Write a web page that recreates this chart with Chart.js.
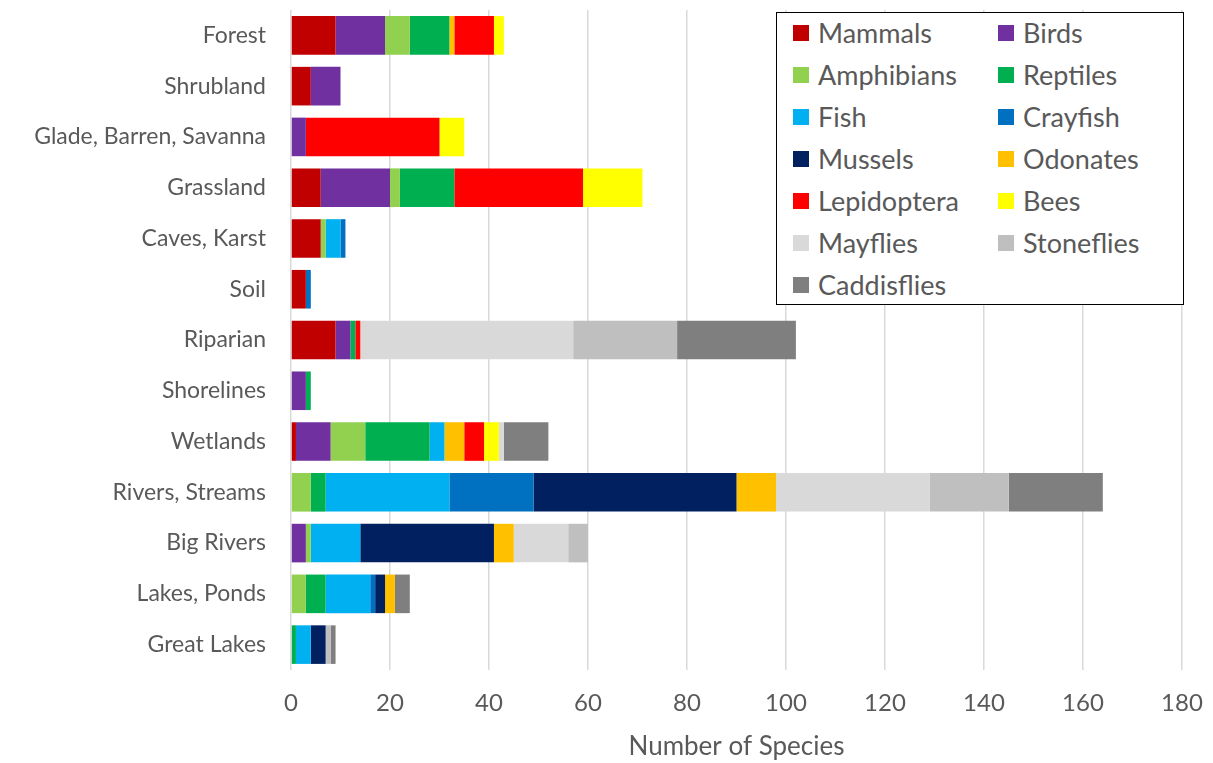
<!DOCTYPE html>
<html>
<head>
<meta charset="utf-8">
<script src="https://cdn.jsdelivr.net/npm/chart.js@4.4.1/dist/chart.umd.min.js"></script>
<style>
  html, body { margin: 0; padding: 0; background: #ffffff; }
  #wrap { position: relative; width: 1213px; height: 763px; overflow: hidden; }
  #legend {
    position: absolute; left: 776px; top: 12px; width: 408px; height: 293px;
    border: 1.5px solid #000; background: #fff; box-sizing: border-box;
    font-family: Lato, "Open Sans", sans-serif; font-size: 27px; color: #595959;
  }
  .item { position: absolute; height: 30px; line-height: 30px; white-space: nowrap; }
  .sw { position: absolute; left: 0; top: 7px; width: 16px; height: 16px; }
  .lbl { position: absolute; left: 25px; top: 0; }
</style>
</head>
<body>
<div id="wrap">
  <canvas id="c" width="1213" height="763"></canvas>
  <div id="legend"></div>
</div>
<script>
const categories = ["Forest", "Shrubland", "Glade, Barren, Savanna", "Grassland", "Caves, Karst", "Soil",
  "Riparian", "Shorelines", "Wetlands", "Rivers, Streams", "Big Rivers", "Lakes, Ponds", "Great Lakes"];

const seriesNames = ["Mammals", "Birds", "Amphibians", "Reptiles", "Fish", "Crayfish", "Mussels",
  "Odonates", "Lepidoptera", "Bees", "Mayflies", "Stoneflies", "Caddisflies"];

const mammals     = [9, 4, 0, 6, 6, 3, 9, 0, 1, 0, 0, 0, 0];
const birds       = [10, 6, 3, 14, 0, 0, 3, 3, 7, 0, 3, 0, 0];
const amphibians  = [5, 0, 0, 2, 1, 0, 0, 0, 7, 4, 1, 3, 0];
const reptiles    = [8, 0, 0, 11, 0, 0, 1, 1, 13, 3, 0, 4, 1];
const fish        = [0, 0, 0, 0, 3, 0, 0, 0, 3, 25, 10, 9, 3];
const crayfish    = [0, 0, 0, 0, 1, 1, 0, 0, 0, 17, 0, 1, 0];
const mussels     = [0, 0, 0, 0, 0, 0, 0, 0, 0, 41, 27, 2, 3];
const odonates    = [1, 0, 0, 0, 0, 0, 0, 0, 4, 8, 4, 2, 0];
const lepidoptera = [8, 0, 27, 26, 0, 0, 1, 0, 4, 0, 0, 0, 0];
const bees        = [2, 0, 5, 12, 0, 0, 0, 0, 3, 0, 0, 0, 0];
const mayflies    = [0, 0, 0, 0, 0, 0, 43, 0, 1, 31, 11, 0, 0];
const stoneflies  = [0, 0, 0, 0, 0, 0, 21, 0, 0, 16, 4, 0, 1];
const caddisflies = [0, 0, 0, 0, 0, 0, 24, 0, 9, 19, 0, 3, 1];

const xTicks = [0, 20, 40, 60, 80, 100, 120, 140, 160, 180];
const xTitle = "Number of Species";

const seriesValues = [mammals, birds, amphibians, reptiles, fish, crayfish, mussels,
  odonates, lepidoptera, bees, mayflies, stoneflies, caddisflies];
const seriesColors = ["#C00000", "#7030A0", "#92D050", "#00B050", "#00B0F0", "#0070C0", "#002060",
  "#FFC000", "#FF0000", "#FFFF00", "#D9D9D9", "#BFBFBF", "#7F7F7F"];

const FONT = "Lato, 'Open Sans', sans-serif";
const TXT = "#595959";

const datasets = seriesNames.map((n, i) => ({
  label: n,
  data: seriesValues[i],
  backgroundColor: seriesColors[i],
  borderWidth: 0,
  categoryPercentage: 1,
  barPercentage: 0.76
}));

new Chart(document.getElementById("c"), {
  type: "bar",
  data: { labels: categories, datasets },
  options: {
    indexAxis: "y",
    responsive: false,
    animation: false,
    layout: { padding: { top: 10, right: 31, bottom: 0, left: 0 } },
    plugins: { legend: { display: false }, tooltip: { enabled: false } },
    scales: {
      x: {
        stacked: true,
        min: 0, max: 180,
        afterBuildTicks: s => { s.ticks = xTicks.map(v => ({ value: v })); },
        afterFit: s => { s.height = 93; s.paddingLeft = 0; s.paddingRight = 0; },
        grid: { color: "#D9D9D9", lineWidth: 1.5, drawTicks: false },
        border: { display: false },
        ticks: { color: TXT, font: { family: FONT, size: 24 }, padding: 19 },
        title: { display: true, text: xTitle, color: TXT, font: { family: FONT, size: 26 }, padding: { top: 0, bottom: 1 } }
      },
      y: {
        stacked: true,
        afterFit: s => { s.width = 291; s.paddingTop = 0; s.paddingBottom = 0; },
        grid: { display: false, drawTicks: false },
        border: { display: false },
        ticks: { color: TXT, font: { family: FONT, size: 23 }, padding: 25 }
      }
    }
  }
});

// Legend built from the series arrays (two columns, row-major)
const leg = document.getElementById("legend");
seriesNames.forEach((n, i) => {
  const col = i % 2, row = Math.floor(i / 2);
  const d = document.createElement("div");
  d.className = "item";
  d.style.left = (col === 0 ? 16 : 221) + "px";
  d.style.top = (5 + row * 42) + "px";
  d.innerHTML = '<span class="sw" style="background:' + seriesColors[i] + '"></span><span class="lbl"></span>';
  d.querySelector(".lbl").textContent = n;
  leg.appendChild(d);
});
</script>
</body>
</html>
